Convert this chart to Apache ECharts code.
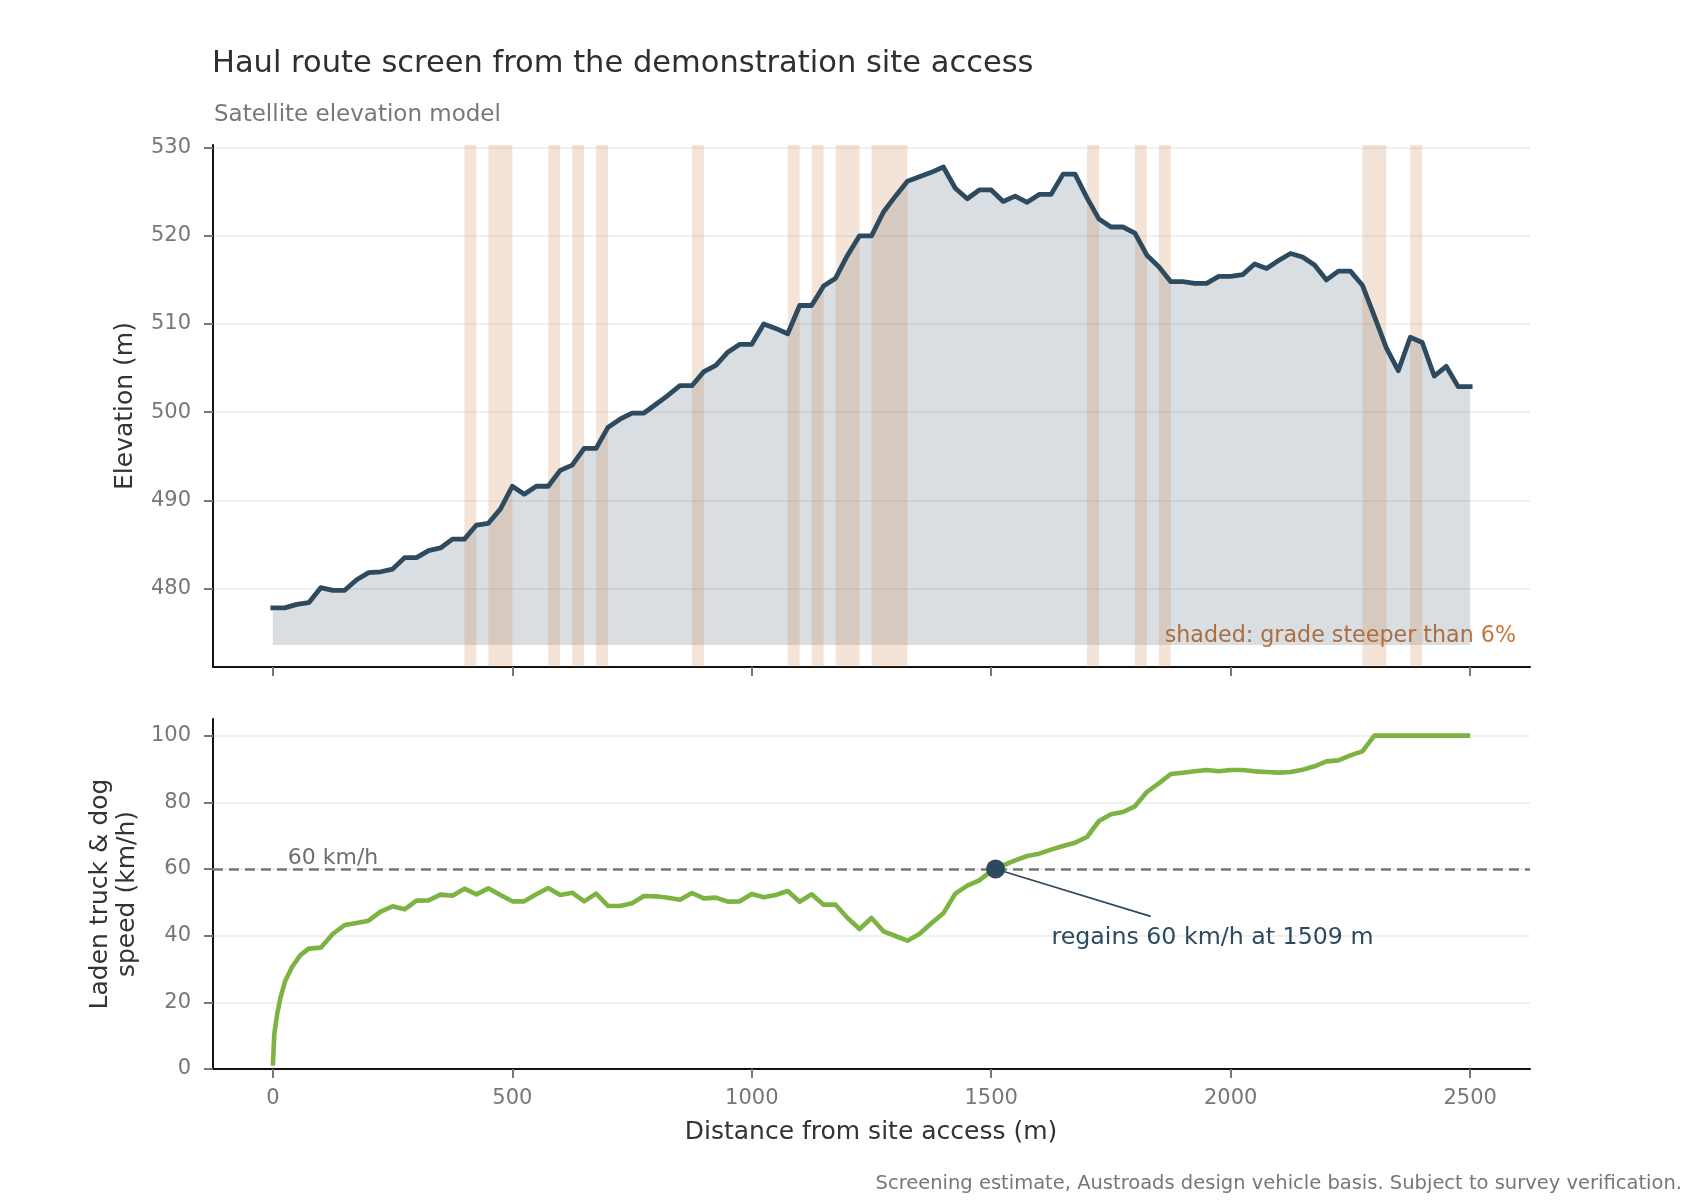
<!DOCTYPE html>
<html>
<head>
<meta charset="utf-8">
<script src="https://cdn.jsdelivr.net/npm/echarts@6/dist/echarts.min.js"></script>
<style>html,body{margin:0;padding:0;background:#fff}#c{width:1700px;height:1200px}</style>
</head>
<body>
<div id="c"></div>
<script>
const FONT = '"DejaVu Sans", sans-serif';

// ---- data ----
const STEP_M = 25; // elevation sampled every 25 m from 0 to 2500 m
const elevation = [
  477.8, 477.8, 478.2, 478.4, 480.1, 479.8, 479.8, 481.0, 481.8, 481.9,
  482.2, 483.5, 483.5, 484.3, 484.6, 485.6, 485.6, 487.2, 487.4, 489.0,
  491.6, 490.7, 491.6, 491.6, 493.4, 494.0, 495.9, 495.9, 498.3, 499.2,
  499.9, 499.9, 500.9, 501.9, 503.0, 503.0, 504.6, 505.3, 506.8, 507.7,
  507.7, 510.0, 509.5, 508.9, 512.1, 512.1, 514.3, 515.2, 517.8, 520.0,
  520.0, 522.7, 524.5, 526.2, 526.7, 527.2, 527.8, 525.4, 524.2, 525.2,
  525.2, 523.9, 524.5, 523.8, 524.7, 524.7, 527.0, 527.0, 524.3, 521.9,
  521.0, 521.0, 520.3, 517.8, 516.5, 514.8, 514.8, 514.6, 514.6, 515.4,
  515.4, 515.6, 516.8, 516.3, 517.2, 518.0, 517.6, 516.7, 515.0, 516.0,
  516.0, 514.4, 510.9, 507.3, 504.7, 508.5, 507.9, 504.1, 505.2, 502.9,
  502.9
];
const elevDist = elevation.map((_, i) => i * STEP_M);
const FILL_BASE = 473.6;

// grade steeper than 6% bands (m)
const bandStart = [400, 450, 575, 625, 675, 875, 1075, 1125, 1175, 1250, 1700, 1800, 1850, 2275, 2375];
const bandEnd   = [425, 500, 600, 650, 700, 900, 1100, 1150, 1225, 1325, 1725, 1825, 1875, 2325, 2400];

// speed: pull-away from rest (fine steps), then every 25 m from 100 m
const speedStartDist = [0, 3, 9, 16, 26, 40, 57, 75];
const speedStartKmh  = [1.0, 10.5, 16.5, 21.5, 26.5, 30.6, 34.1, 36.1];
const speedFrom = 100;
const speedKmh = [
  36.4, 40.5, 43.2, 43.8, 44.5, 47.2, 48.8, 47.9, 50.5, 50.6,
  52.3, 52.0, 54.1, 52.4, 54.2, 52.2, 50.3, 50.3, 52.4, 54.3,
  52.2, 52.9, 50.3, 52.6, 48.9, 48.9, 49.7, 51.9, 51.8, 51.4,
  50.8, 52.8, 51.2, 51.4, 50.2, 50.3,
  52.5, 51.5, 52.2, 53.4, 50.2, 52.4, 49.3, 49.3, 45.3, 42.0,
  45.3, 41.3, 39.9, 38.5, 40.5, 43.7, 46.7, 52.6, 55.0, 56.6,
  59.4, 61.1, 62.6, 63.9, 64.6, 65.8, 66.9, 67.9, 69.6, 74.4,
  76.4, 77.1, 78.8, 83.1, 85.7, 88.5, 88.9, 89.3, 89.7, 89.3,
  89.7, 89.7, 89.3, 89.1, 88.9, 89.1, 89.8, 90.8, 92.3, 92.6,
  94.1, 95.3, 100, 100, 100, 100, 100, 100, 100, 100, 100
];
const THRESHOLD = 60;
const CROSS_AT = 1509;

const xTicks = [0, 500, 1000, 1500, 2000, 2500];
const elevTicks = [480, 490, 500, 510, 520, 530];
const speedTicks = [0, 20, 40, 60, 80, 100];

// ---- build ----
const elevData = elevDist.map((d, i) => [d, elevation[i]]);
const speedData = speedStartDist.map((d, i) => [d, speedStartKmh[i]])
  .concat(speedKmh.map((v, i) => [speedFrom + i * STEP_M, v]));

const X_MIN = -125, X_MAX = 2625;
const plain = v => String(v);

function xAxis(i) {
  return {
    type: 'value', gridIndex: i, min: X_MIN, max: X_MAX,
    axisLine: { show: true, onZero: false, lineStyle: { color: '#111', width: 2 } },
    axisTick: { show: true, customValues: xTicks, length: 9, lineStyle: { color: '#777', width: 2 } },
    axisLabel: { show: i === 1, customValues: xTicks, formatter: plain, fontSize: 21, color: '#777', margin: 19, fontFamily: FONT },
    splitLine: { show: false }
  };
}
function yAxis(i, min, max, ticks) {
  return {
    type: 'value', gridIndex: i, min: min, max: max,
    axisLine: { show: true, onZero: false, lineStyle: { color: '#111', width: 2 } },
    axisTick: { show: true, customValues: ticks, length: 9, lineStyle: { color: '#777', width: 2 } },
    axisLabel: { show: true, customValues: ticks, formatter: plain, fontSize: 21, color: '#777', margin: 22, fontFamily: FONT },
    splitLine: { show: true, lineStyle: { color: '#ebebeb', width: 1.5 } }
  };
}
const labelBase = { opacity: 1, fontFamily: FONT, textBorderWidth: 0, textShadowBlur: 0 };

const chart = echarts.init(document.getElementById('c'), null, { renderer: 'canvas' });
chart.setOption({
  animation: false,
  backgroundColor: '#ffffff',
  textStyle: { fontFamily: FONT },
  grid: [
    { left: 213, top: 145, width: 1317, height: 522, outerBoundsMode: 'none' },
    { left: 213, top: 719, width: 1317, height: 350, outerBoundsMode: 'none' }
  ],
  xAxis: [xAxis(0), xAxis(1)],
  yAxis: [yAxis(0, 471.1, 530.3, elevTicks), yAxis(1, 0, 105, speedTicks)],
  series: [
    { // elevation area
      type: 'line', xAxisIndex: 0, yAxisIndex: 0, z: 1, silent: true,
      data: elevData, symbol: 'none',
      lineStyle: { width: 0 },
      areaStyle: { color: 'rgba(46,74,94,0.18)', opacity: 1, origin: FILL_BASE }
    },
    { // steep bands
      type: 'custom', xAxisIndex: 0, yAxisIndex: 0, z: 2, silent: true,
      data: bandStart.map((s, i) => [s, bandEnd[i]]),
      renderItem: function (params, api) {
        const cs = params.coordSys;
        const x0 = api.coord([api.value(0), 500])[0];
        const x1 = api.coord([api.value(1), 500])[0];
        return { type: 'rect', shape: { x: x0, y: cs.y, width: x1 - x0, height: cs.height },
                 style: { fill: 'rgba(200,118,58,0.2)' } };
      }
    },
    { // elevation line
      type: 'line', xAxisIndex: 0, yAxisIndex: 0, z: 3, silent: true,
      data: elevData, symbol: 'none',
      lineStyle: { color: '#2e4a5e', width: 4.8, join: 'round', cap: 'square' }
    },
    { // speed
      type: 'line', xAxisIndex: 1, yAxisIndex: 1, z: 3, silent: true,
      data: speedData, symbol: 'none',
      lineStyle: { color: '#7cb342', width: 4.6, join: 'round' },
      markLine: {
        silent: true, symbol: ['none', 'none'], animation: false,
        data: [{ yAxis: THRESHOLD }],
        lineStyle: { color: '#777', type: [10, 6], width: 2.5 },
        label: { show: false }
      }
    },
    { // connector
      type: 'line', xAxisIndex: 1, yAxisIndex: 1, z: 4, silent: true,
      data: [[CROSS_AT, THRESHOLD], [1833, 45.8]], symbol: 'none',
      lineStyle: { color: '#2e4a5e', width: 1.7 }
    },
    { // crossing marker
      type: 'scatter', xAxisIndex: 1, yAxisIndex: 1, z: 5, silent: true,
      data: [[CROSS_AT, THRESHOLD]], symbolSize: 19,
      itemStyle: { color: '#2c4a5e', opacity: 1 }
    },
    { // annotation text
      type: 'scatter', xAxisIndex: 1, yAxisIndex: 1, z: 6, silent: true,
      data: [[1962, 39.3]], symbolSize: 1, itemStyle: { color: '#ffffff', opacity: 0 },
      label: Object.assign({ show: true, position: 'inside', formatter: 'regains ' + THRESHOLD + ' km/h at ' + CROSS_AT + ' m',
               fontSize: 23.7, color: '#2c4a5e' }, labelBase)
    },
    { // threshold label
      type: 'scatter', xAxisIndex: 1, yAxisIndex: 1, z: 6, silent: true,
      data: [[30, 63.3]], symbolSize: 1, itemStyle: { color: '#ffffff', opacity: 0 },
      label: Object.assign({ show: true, position: 'right', distance: 0, formatter: THRESHOLD + ' km/h',
               fontSize: 22, color: '#6e6e6e' }, labelBase)
    }
  ],
  graphic: [
    { type: 'text', x: 212, y: 64.5, silent: true,
      style: { text: 'Haul route screen from the demonstration site access', fontSize: 30.5, fontFamily: FONT, fill: '#2f2f2f', align: 'left', verticalAlign: 'middle' } },
    { type: 'text', x: 214, y: 115, silent: true,
      style: { text: 'Satellite elevation model', fontSize: 23, fontFamily: FONT, fill: '#777', align: 'left', verticalAlign: 'middle' } },
    { type: 'text', x: 125, y: 406, rotation: Math.PI / 2, silent: true,
      style: { text: 'Elevation (m)', fontSize: 25, fontFamily: FONT, fill: '#333', align: 'center', verticalAlign: 'middle' } },
    { type: 'text', x: 114, y: 894, rotation: Math.PI / 2, silent: true,
      style: { text: 'Laden truck & dog\nspeed (km/h)', fontSize: 25, lineHeight: 27.5, fontFamily: FONT, fill: '#333', align: 'center', verticalAlign: 'middle' } },
    { type: 'text', x: 871, y: 1132, silent: true,
      style: { text: 'Distance from site access (m)', fontSize: 25, fontFamily: FONT, fill: '#333', align: 'center', verticalAlign: 'middle' } },
    { type: 'text', x: 1516, y: 636, silent: true,
      style: { text: 'shaded: grade steeper than 6%', fontSize: 22.2, fontFamily: FONT, fill: '#c8763a', align: 'right', verticalAlign: 'middle' } },
    { type: 'text', x: 1682, y: 1184, silent: true,
      style: { text: 'Screening estimate, Austroads design vehicle basis. Subject to survey verification.', fontSize: 19.5, fontFamily: FONT, fill: '#777', align: 'right', verticalAlign: 'middle' } }
  ]
});
</script>
</body>
</html>
